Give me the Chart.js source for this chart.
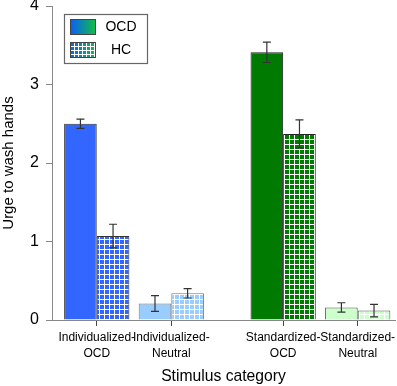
<!DOCTYPE html>
<html lang="en">
  <head>
    <meta charset="UTF-8" />
    <title>Urge to wash hands</title>
    <script src="https://cdn.jsdelivr.net/npm/chart.js"></script>
    <style>
      body { margin: 0; background: #fff; }
    </style>
  </head>
  <body>
    <canvas id="urgeChart" width="397" height="386"></canvas>

    <script>
      // values
      const categories = [
        ["Individualized-", "OCD"],
        ["Individualized-", "Neutral"],
        ["Standardized-", "OCD"],
        ["Standardized-", "Neutral"],
      ];
      const ocdMeans = [2.5, 0.21, 3.41, 0.16];
      const ocdErrors = [0.06, 0.1, 0.13, 0.06];
      const hcMeans = [1.07, 0.34, 2.37, 0.12];
      const hcErrors = [0.15, 0.06, 0.18, 0.08];
      const yTicks = [0, 1, 2, 3, 4];

      // layout: a wider gap between the two stimulus families
      const groupX = [1, 2, 3.5, 4.5];

      const fam = "Arial, 'Liberation Sans', sans-serif";
      const fills = ["#3366ff", "#99ccff", "#007a00", "#ccffcc"];
      const edges = ["#333", "#777", "#222", "#555"];

      const canvas = document.getElementById("urgeChart");
      const ctx = canvas.getContext("2d");

      function gridPattern(color) {
        const c = document.createElement("canvas");
        c.width = 5;
        c.height = 5;
        const g = c.getContext("2d");
        g.fillStyle = color;
        g.fillRect(0, 0, 5, 5);
        g.fillStyle = "#fff";
        g.fillRect(4, 0, 1, 5);
        g.fillRect(0, 4, 5, 1);
        return ctx.createPattern(c, "repeat");
      }

      const errorBars = {
        id: "errorBars",
        afterDatasetsDraw(chart) {
          const c = chart.ctx;
          const y = chart.scales.y;
          c.save();
          c.strokeStyle = "#333";
          c.lineWidth = 1.2;
          chart.data.datasets.forEach((ds, i) => {
            chart.getDatasetMeta(i).data.forEach((bar, j) => {
              const v = ds.data[j].y;
              const e = ds.errors[j];
              const top = y.getPixelForValue(v + e);
              const bot = y.getPixelForValue(v - e);
              c.beginPath();
              c.moveTo(bar.x, top);
              c.lineTo(bar.x, bot);
              c.moveTo(bar.x - 4, top);
              c.lineTo(bar.x + 4, top);
              c.moveTo(bar.x - 4, bot);
              c.lineTo(bar.x + 4, bot);
              c.stroke();
            });
          });
          c.restore();
        },
      };

      // boxed legend inside the plot, top left
      const boxLegend = {
        id: "boxLegend",
        afterDraw(chart) {
          const c = chart.ctx;
          const x0 = chart.chartArea.left + 12;
          const y0 = chart.chartArea.top + 8;
          c.save();
          c.fillStyle = "#fff";
          c.fillRect(x0, y0, 83, 49);
          c.strokeStyle = "#666";
          c.lineWidth = 1.2;
          c.strokeRect(x0 + 0.5, y0 + 0.5, 83, 49);

          const sx = x0 + 6;
          const rows = [y0 + 5, y0 + 28];
          rows.forEach((sy, k) => {
            const grad = c.createLinearGradient(sx, 0, sx + 26, 0);
            grad.addColorStop(0, "#0a5cff");
            grad.addColorStop(1, "#10c040");
            c.fillStyle = grad;
            c.fillRect(sx, sy, 26, 16);
            if (k === 1) {
              c.fillStyle = "#fff";
              for (let gx = sx + 4; gx < sx + 26; gx += 4) c.fillRect(gx, sy, 1, 16);
              for (let gy = sy + 4; gy < sy + 16; gy += 4) c.fillRect(sx, gy, 26, 1);
            }
            c.strokeStyle = "#444";
            c.lineWidth = 1;
            c.strokeRect(sx + 0.5, sy + 0.5, 25, 15);
          });

          c.fillStyle = "#000";
          c.font = "14px " + fam;
          c.textAlign = "center";
          c.textBaseline = "middle";
          c.fillText("OCD", x0 + 57, rows[0] + 8);
          c.fillText("HC", x0 + 57, rows[1] + 8);
          c.restore();
        },
      };

      new Chart(ctx, {
        type: "bar",
        data: {
          datasets: [
            {
              label: "OCD",
              data: groupX.map((x, i) => ({ x: x, y: ocdMeans[i] })),
              errors: ocdErrors,
              backgroundColor: fills,
              borderColor: edges,
              borderWidth: 1,
            },
            {
              label: "HC",
              data: groupX.map((x, i) => ({ x: x, y: hcMeans[i] })),
              errors: hcErrors,
              backgroundColor: fills.map(gridPattern),
              borderColor: edges,
              borderWidth: 1,
            },
          ],
        },
        options: {
          responsive: false,
          animation: false,
          layout: { padding: { top: 6, right: 2, left: 0, bottom: 0 } },
          datasets: { bar: { categoryPercentage: 0.875, barPercentage: 1 } },
          plugins: { legend: { display: false }, tooltip: { enabled: false } },
          scales: {
            x: {
              type: "linear",
              min: 0.4,
              max: 5.0,
              bounds: "data",
              offset: false,
              afterBuildTicks: (s) => {
                s.ticks = groupX.map((v) => ({ value: v }));
              },
              afterFit: (s) => {
                s.height = 66;
                s.paddingLeft = 0;
                s.paddingRight = 0;
              },
              ticks: {
                autoSkip: false,
                maxRotation: 0,
                color: "#000",
                padding: 4,
                font: { size: 12, family: fam, lineHeight: 1.3 },
                callback: (v) => categories[groupX.indexOf(v)],
              },
              grid: {
                offset: false,
                drawOnChartArea: false,
                drawTicks: true,
                tickLength: 6,
                tickColor: "#444",
                color: "#888",
              },
              border: { display: true, color: "#888", width: 1 },
              title: {
                display: true,
                text: "Stimulus category",
                color: "#000",
                padding: 0,
                font: { size: 15.7, family: fam },
              },
            },
            y: {
              min: 0,
              max: 4,
              afterBuildTicks: (s) => {
                s.ticks = yTicks.map((v) => ({ value: v }));
              },
              afterFit: (s) => {
                s.width = 52;
                s.paddingTop = 0;
                s.paddingBottom = 0;
              },
              ticks: {
                color: "#000",
                padding: 7,
                font: { size: 16, family: fam },
              },
              grid: {
                drawOnChartArea: false,
                drawTicks: true,
                tickLength: 6,
                color: "#888",
              },
              border: { display: true, color: "#888", width: 1 },
              title: {
                display: true,
                text: "Urge to wash hands",
                color: "#000",
                padding: 0,
                font: { size: 15, family: fam },
              },
            },
          },
        },
        plugins: [errorBars, boxLegend],
      });
    </script>
  </body>
</html>
